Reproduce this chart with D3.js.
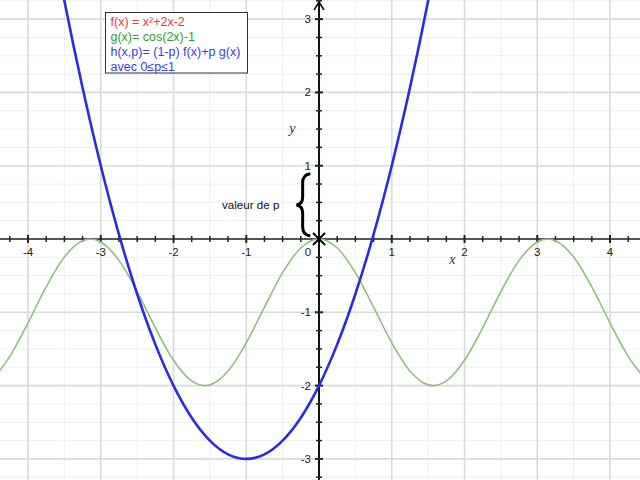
<!DOCTYPE html>
<html>
<head>
<meta charset="utf-8">
<script src="https://cdn.jsdelivr.net/npm/d3@7"></script>
<style>
  html, body { margin: 0; padding: 0; background: #fff; }
  svg { display: block; }
</style>
</head>
<body>
<svg id="chart" width="640" height="480"></svg>
<script>
// ---- data ----
const xTickLabels = [-4, -3, -2, -1, 1, 2, 3, 4];
const yTickLabels = [-3, -2, -1, 1, 2, 3];

// f(x) = x²+2x-2 (blue), values read at x steps of 0.25
const fX = [-3.75, -3.5, -3.25, -3, -2.75, -2.5, -2.25, -2, -1.75, -1.5, -1.25, -1,
            -0.75, -0.5, -0.25, 0, 0.25, 0.5, 0.75, 1, 1.25, 1.5, 1.75];
const fY = [4.5625, 3.25, 2.0625, 1, 0.0625, -0.75, -1.4375, -2, -2.4375, -2.75, -2.9375, -3,
            -2.9375, -2.75, -2.4375, -2, -1.4375, -0.75, 0.0625, 1, 2.0625, 3.25, 4.5625];

// g(x) = cos(2x)-1 (green)
const gX = [-4.7124, -4.5, -4.25, -4, -3.75, -3.5, -3.25, -3.1416, -3, -2.75, -2.5, -2.25, -2, -1.75,
            -1.5708, -1.5, -1.25, -1, -0.75, -0.5, -0.25, 0,
            0.25, 0.5, 0.75, 1, 1.25, 1.5, 1.5708, 1.75, 2, 2.25, 2.5, 2.75, 3, 3.1416,
            3.25, 3.5, 3.75, 4, 4.25, 4.5, 4.7124];
const gY = [-2, -1.91113, -1.60201, -1.14550, -0.65336, -0.24610, -0.02341, 0, -0.03983, -0.29133, -0.71634, -1.21080, -1.65364, -1.93646,
            -2, -1.98999, -1.80114, -1.41615, -0.92926, -0.45970, -0.12242, 0,
            -0.12242, -0.45970, -0.92926, -1.41615, -1.80114, -1.98999, -2, -1.93646, -1.65364, -1.21080, -0.71634, -0.29133, -0.03983, 0,
            -0.02341, -0.24610, -0.65336, -1.14550, -1.60201, -1.91113, -2];

const legendLines = [
  { text: "f(x) = x²+2x-2", color: "#f03434" },
  { text: "g(x)= cos(2x)-1", color: "#2ea02e" },
  { text: "h(x,p)= (1-p) f(x)+p g(x)", color: "#3838f0" },
  { text: "avec 0≤p≤1", color: "#3838f0" }
];

// ---- layout ----
const W = 640, H = 480;
const svg = d3.select("#chart");
const x = d3.scaleLinear().domain([-4.385, 4.412]).range([0, W]);
const y = d3.scaleLinear().domain([3.261, -3.288]).range([0, H]);

// grid
const gGrid = svg.append("g");
const minorX = d3.range(-4.5, 4.51, 0.5).filter(v => Math.abs(v % 1) > 0.01);
const minorY = d3.range(-3.25, 3.26, 0.25).filter(v => Math.abs(v % 1) > 0.01);
gGrid.selectAll(".mx").data(minorX).join("line")
  .attr("x1", d => x(d)).attr("x2", d => x(d)).attr("y1", 0).attr("y2", H)
  .attr("stroke", "#efefef").attr("stroke-width", 1);
gGrid.selectAll(".my").data(minorY).join("line")
  .attr("y1", d => y(d)).attr("y2", d => y(d)).attr("x1", 0).attr("x2", W)
  .attr("stroke", "#efefef").attr("stroke-width", 1);
gGrid.selectAll(".Mx").data(d3.range(-4, 5)).join("line")
  .attr("x1", d => x(d)).attr("x2", d => x(d)).attr("y1", 0).attr("y2", H)
  .attr("stroke", "#dadada").attr("stroke-width", 1.6);
gGrid.selectAll(".My").data(d3.range(-3, 4)).join("line")
  .attr("y1", d => y(d)).attr("y2", d => y(d)).attr("x1", 0).attr("x2", W)
  .attr("stroke", "#dadada").attr("stroke-width", 1.6);

// curves
svg.append("clipPath").attr("id", "clip")
  .append("rect").attr("width", W).attr("height", H);

const lineGen = d3.line().x(d => x(d[0])).y(d => y(d[1])).curve(d3.curveMonotoneX);
const lineNat = d3.line().x(d => x(d[0])).y(d => y(d[1])).curve(d3.curveNatural);

const FONT = "Liberation Sans, Arial, Helvetica, sans-serif";

// axes
const xAxisG = svg.append("g").attr("transform", `translate(0,${y(0)})`);
xAxisG.append("line").attr("x1", 0).attr("x2", W).attr("stroke", "#555").attr("stroke-width", 2);
const xTicks = d3.range(-4.25, 4.3, 0.25);
xAxisG.selectAll(".t").data(xTicks).join("line")
  .attr("x1", d => x(d)).attr("x2", d => x(d))
  .attr("y1", d => Math.abs(d % 1) < 0.01 ? -4 : -3)
  .attr("y2", d => Math.abs(d % 1) < 0.01 ? 4 : 3)
  .attr("stroke", "#222").attr("stroke-width", d => Math.abs(d % 1) < 0.01 ? 2 : 1.5);
xAxisG.selectAll(".l").data(xTickLabels).join("text")
  .attr("x", d => x(d)).attr("y", 17)
  .attr("text-anchor", "middle")
  .attr("font-family", FONT).attr("font-size", 11.5)
  .attr("fill", "#222").text(d => d);
xAxisG.append("text").attr("x", x(0) - 11).attr("y", 17)
  .attr("text-anchor", "middle")
  .attr("font-family", FONT).attr("font-size", 11.5)
  .attr("fill", "#222").text("0");

const yAxisG = svg.append("g").attr("transform", `translate(${x(0)},0)`);
yAxisG.append("line").attr("y1", 1).attr("y2", H).attr("stroke", "#111").attr("stroke-width", 2);
yAxisG.append("path").attr("d", "M-5,10 L0,2 L5,10").attr("fill", "none")
  .attr("stroke", "#111").attr("stroke-width", 1.6);
const yTicks = d3.range(-3.25, 3.26, 0.25).filter(v => Math.abs(v) > 0.01);
yAxisG.selectAll(".t").data(yTicks).join("line")
  .attr("y1", d => y(d)).attr("y2", d => y(d))
  .attr("x1", d => Math.abs(d % 1) < 0.01 ? -4 : -3)
  .attr("x2", d => Math.abs(d % 1) < 0.01 ? 4 : 3)
  .attr("stroke", "#222").attr("stroke-width", d => Math.abs(d % 1) < 0.01 ? 2 : 1.5);
yAxisG.selectAll(".l").data(yTickLabels).join("text")
  .attr("x", -8).attr("y", d => y(d) + 4)
  .attr("text-anchor", "end")
  .attr("font-family", FONT).attr("font-size", 11.5)
  .attr("fill", "#222").text(d => d);

// axis names
svg.append("text").attr("x", x(1.79)).attr("y", y(-0.34))
  .attr("font-family", "Liberation Serif, Times New Roman, serif").attr("font-style", "italic")
  .attr("font-size", 14).attr("fill", "#333").text("x");
svg.append("text").attr("x", x(-0.41)).attr("y", y(1.44))
  .attr("font-family", "Liberation Serif, Times New Roman, serif").attr("font-style", "italic")
  .attr("font-size", 14).attr("fill", "#333").text("y");

// green curve
svg.append("path").datum(gX.map((v, i) => [v, gY[i]]))
  .attr("clip-path", "url(#clip)")
  .attr("d", lineGen).attr("fill", "none")
  .attr("stroke", "#8cc17e").attr("stroke-width", 1.6);

// blue curve
svg.append("path").datum(fX.map((v, i) => [v, fY[i]]))
  .attr("clip-path", "url(#clip)")
  .attr("d", lineNat).attr("fill", "none")
  .attr("stroke", "#2b2be6").attr("stroke-width", 2.6);

// origin cross
const ox = x(0), oy = y(0);
svg.append("path")
  .attr("d", `M${ox-6},${oy-6} L${ox+6},${oy+6} M${ox-6},${oy+6} L${ox+6},${oy-6}`)
  .attr("stroke", "#000").attr("stroke-width", 1.8);

// brace
const bt = y(0.89), bb = y(0.04), bm = (bt + bb) / 2;
const bx = x(-0.12), bbody = x(-0.225), btip = x(-0.31);
svg.append("path")
  .attr("d", `M${bx},${bt} Q${bbody},${bt+1} ${bbody},${bt+9} L${bbody},${bm-8} Q${bbody},${bm-1} ${btip},${bm} ` +
             `Q${bbody},${bm+1} ${bbody},${bm+8} L${bbody},${bb-9} Q${bbody},${bb-1} ${bx},${bb}`)
  .attr("fill", "none").attr("stroke", "#000").attr("stroke-width", 3);
svg.append("text").attr("x", 222).attr("y", bm + 4)
  .attr("font-family", FONT).attr("font-size", 11.6)
  .attr("fill", "#111").text("valeur de p");

// legend
const lg = svg.append("g");
lg.append("rect").attr("x", 105.5).attr("y", 12.5).attr("width", 142).attr("height", 60.5)
  .attr("fill", "#fff").attr("stroke", "#333").attr("stroke-width", 1);
lg.selectAll("text").data(legendLines).join("text")
  .attr("x", 110.5).attr("y", (d, i) => 25.5 + i * 15.2)
  .attr("font-family", FONT).attr("font-size", 12.5)
  .attr("fill", d => d.color).text(d => d.text);
</script>
</body>
</html>
